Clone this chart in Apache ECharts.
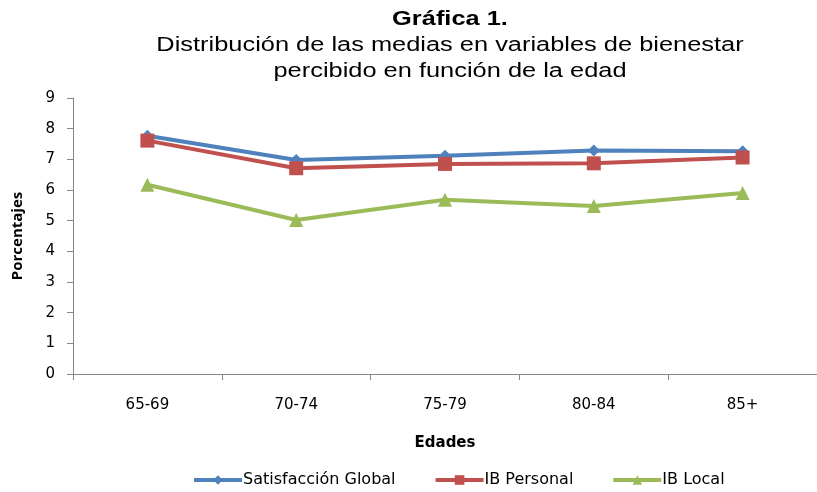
<!DOCTYPE html>
<html>
<head>
<meta charset="utf-8">
<script src="https://cdn.jsdelivr.net/npm/echarts@6/dist/echarts.min.js"></script>
<style>
  html, body { margin: 0; padding: 0; background: #fff; }
  #chart { width: 817px; height: 492px; }
</style>
</head>
<body>
<div id="chart"></div>
<script>
// Datos
const edades = ['65-69', '70-74', '75-79', '80-84', '85+'];
const satisfaccionGlobal = [7.77, 6.98, 7.12, 7.29, 7.26];
const ibPersonal = [7.61, 6.71, 6.85, 6.87, 7.06];
const ibLocal = [6.17, 5.02, 5.68, 5.48, 5.90];

const labelFont = '"DejaVu Sans", sans-serif';
const titleFont = '"Liberation Sans", Arial, sans-serif';

const myChart = echarts.init(document.getElementById('chart'), null, { renderer: 'canvas' });

function serie(name, data, color, symbol, size) {
    return {
        name: name,
        type: 'line',
        data: data,
        symbol: symbol,
        symbolSize: size,
        lineStyle: { color: color, width: 4 },
        itemStyle: { color: color },
        emphasis: { disabled: true }
    };
}

// el título original está algo estirado en horizontal
function lineaTitulo(texto, y, bold) {
    return {
        type: 'text',
        x: 450, y: y,
        scaleX: 1.27,
        style: {
            text: texto,
            fontFamily: titleFont,
            fontSize: 20,
            fontWeight: bold ? 'bold' : 'normal',
            fill: '#000',
            align: 'center',
            verticalAlign: 'middle'
        }
    };
}

myChart.setOption({
    animation: false,
    graphic: [
        lineaTitulo('Gráfica 1.', 19, true),
        lineaTitulo('Distribución de las medias en variables de bienestar', 45, false),
        lineaTitulo('percibido en función de la edad', 71, false)
    ],
    legend: {
        bottom: -1,
        left: 187,
        itemWidth: 48,
        itemHeight: 12,
        itemGap: 38,
        lineStyle: { width: 4 },
        textStyle: { fontFamily: labelFont, fontSize: 16, color: '#000', padding: [0, 0, 0, -4] },
        data: ['Satisfacción Global', 'IB Personal', 'IB Local']
    },
    grid: { left: 73, right: -2, top: 98, bottom: 118 },
    xAxis: {
        type: 'category',
        data: edades,
        name: 'Edades',
        nameLocation: 'middle',
        nameGap: 62,
        nameTextStyle: { fontFamily: labelFont, fontSize: 15, fontWeight: 'bold', color: '#000' },
        axisLine: { lineStyle: { color: '#868686', width: 1 } },
        axisTick: { show: true, length: 6, lineStyle: { color: '#868686' } },
        axisLabel: { fontFamily: labelFont, fontSize: 15, color: '#000', margin: 24 }
    },
    yAxis: {
        type: 'value',
        min: 0, max: 9, interval: 1,
        name: 'Porcentajes',
        nameLocation: 'middle',
        nameGap: 48,
        nameRotate: 90,
        nameTextStyle: { fontFamily: '"Open Sans", sans-serif', fontSize: 15, fontWeight: 'bold', color: '#000' },
        axisLine: { show: true, lineStyle: { color: '#868686', width: 1 } },
        axisTick: { show: true, length: 6, lineStyle: { color: '#868686' } },
        axisLabel: { fontFamily: labelFont, fontSize: 15, color: '#000', margin: 18 },
        splitLine: { show: false }
    },
    series: [
        serie('Satisfacción Global', satisfaccionGlobal, '#4F81BD', 'diamond', 12),
        serie('IB Personal', ibPersonal, '#C0504D', 'rect', 14),
        serie('IB Local', ibLocal, '#9BBB59', 'triangle', 14)
    ]
});

window.addEventListener('resize', function() {
    myChart.resize();
});
</script>
</body>
</html>
